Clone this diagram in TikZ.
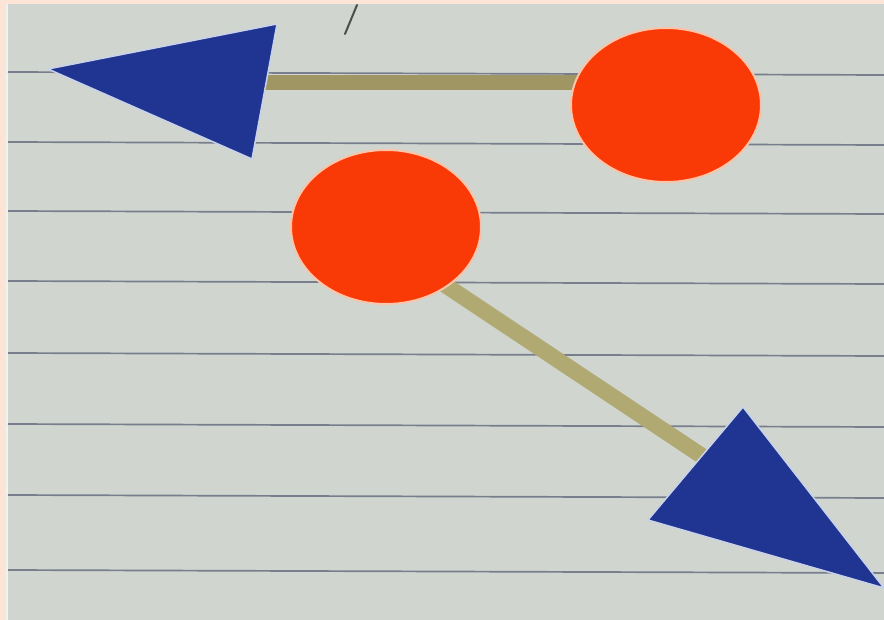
\documentclass[tikz,border=0pt]{standalone}
\usepackage{tikz}
\usetikzlibrary{shapes,positioning,calc}
\definecolor{peach}{RGB}{252,228,214}
\definecolor{paper}{RGB}{208,213,208}
\definecolor{ruling}{RGB}{120,126,140}
\definecolor{disc}{RGB}{250,58,6}
\definecolor{halo}{RGB}{250,196,170}
\definecolor{navy}{RGB}{32,52,146}
\definecolor{paleblue}{RGB}{200,210,232}
\definecolor{stick}{RGB}{160,150,100}
\definecolor{lightstick}{RGB}{176,170,114}

\pgfdeclarelayer{paperlayer}
\pgfdeclarelayer{sticks}
\pgfsetlayers{paperlayer,sticks,main}

\begin{document}
\begin{tikzpicture}[x=1pt,y=-1pt,
    dot/.style={ellipse, fill=disc, draw=halo, line width=2pt, inner sep=0pt,
                minimum width=190, minimum height=154},
    rod/.style={stick, line width=15pt},
    head/.style={fill=navy, draw=paleblue, line width=1.5pt, line join=round}]
    \useasboundingbox (0,0) rectangle (884,620);

    % Lined paper sheet
    \begin{pgfonlayer}{paperlayer}
    \fill[peach] (0,0) rectangle (884,620);
    \fill[paper] (7,4) rectangle (884,620);
    \draw[white!70!paper, line width=2pt] (7,4) -- (7,620);
    \foreach \y in {72,142,211,281,353,424,495,570}
        \draw[ruling, line width=1.7pt] (8,\y) -- (884,\y+3);
    % Pencil stroke at the top
    \draw[gray!60!black, line width=2pt, line cap=round] (357,5) -- (345,34);
    \end{pgfonlayer}

    % Two red discs
    \node[dot] (dotTop) at (666,105) {};
    \node[dot] (dotLow) at (386,227) {};

    % Left arrowhead
    \coordinate (tipL) at (48,69);
    \coordinate (cornerLa) at (277,24);
    \coordinate (cornerLb) at (252,159);
    \coordinate (headL) at (262,83);
    \draw[head] (tipL) -- (cornerLa) -- (cornerLb) -- cycle;

    % Right arrowhead
    \coordinate (tipR) at (884,588);
    \coordinate (cornerRa) at (743,407);
    \coordinate (cornerRb) at (648,520);
    \coordinate (headR) at (702,456);
    \draw[head] (tipR) -- (cornerRa) -- (cornerRb) -- cycle;

    % Sticks from the discs to the heads
    \begin{pgfonlayer}{sticks}
    \draw[rod] (dotTop.center |- headL) -- (headL);
    \draw[rod, lightstick, line width=16pt] ($(dotLow.center)+(20,32)$) -- (headR);
    \end{pgfonlayer}

\end{tikzpicture}
\end{document}
